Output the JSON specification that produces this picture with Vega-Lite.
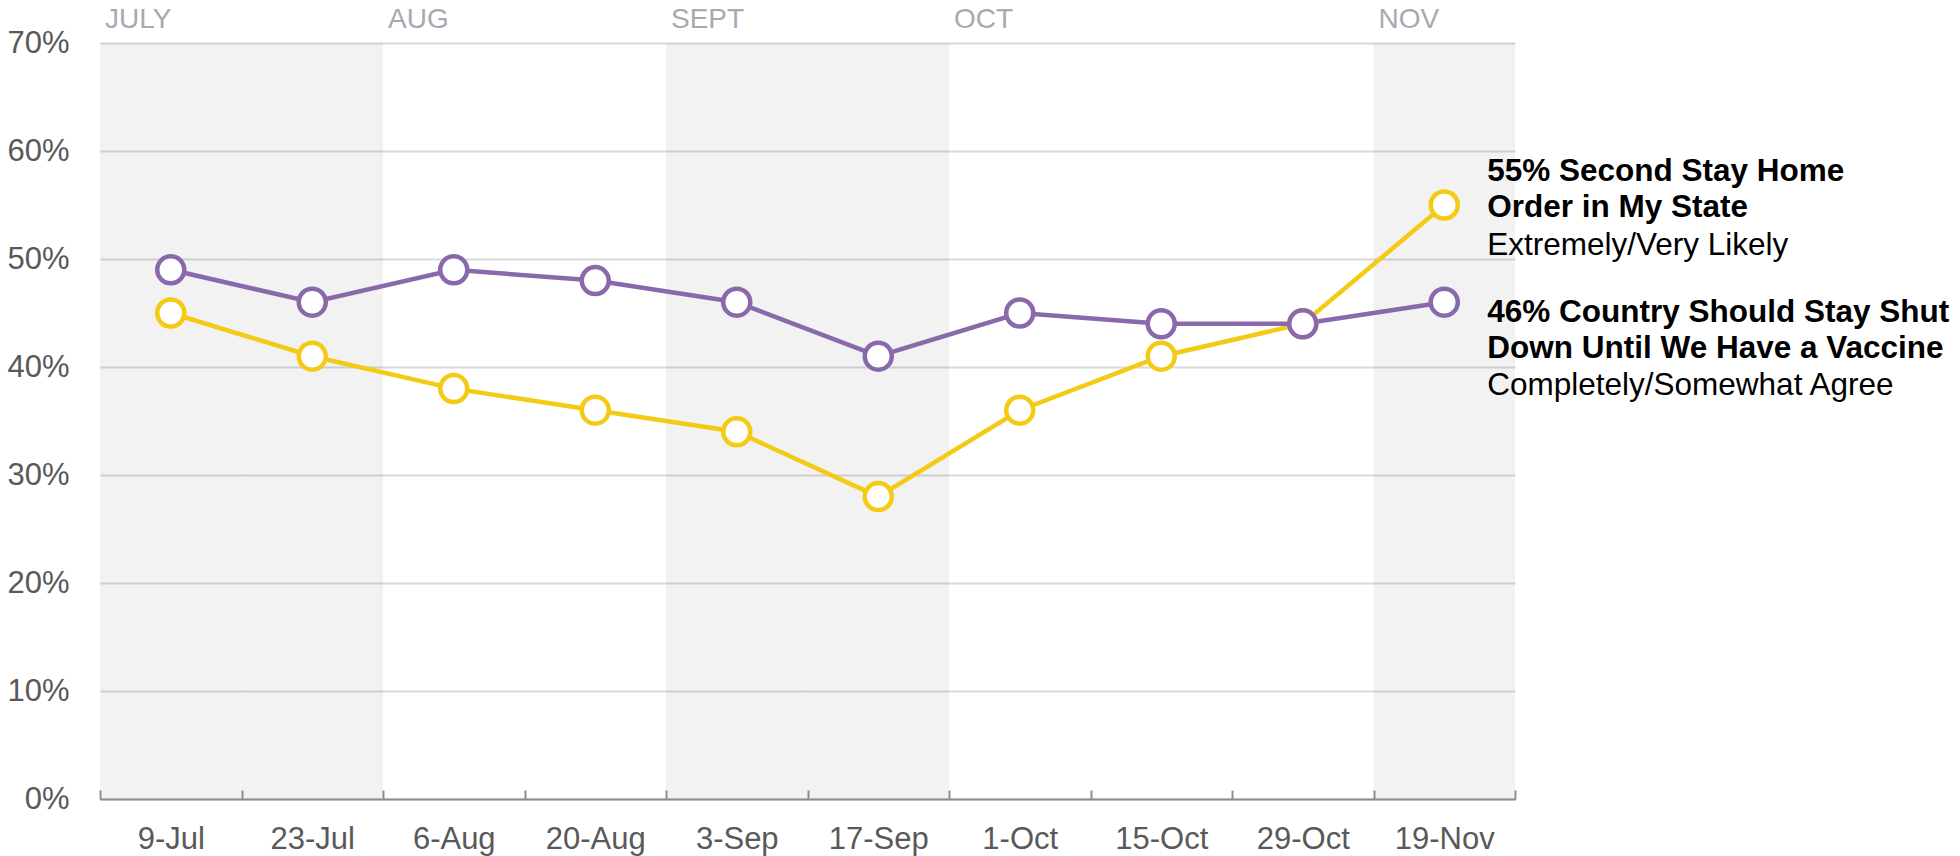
{
  "$schema": "https://vega.github.io/schema/vega-lite/v6.json",
  "width": 1415,
  "height": 756,
  "autosize": {"type": "none"},
  "padding": {"left": 100, "top": 43, "right": 445, "bottom": 57},
  "background": "white",
  "config": {"view": {"stroke": null}, "font": "Liberation Sans", "text": {"font": "Liberation Sans"}},
  "datasets": {
    "dates": [
      {"date": "9-Jul", "month": "JULY"},
      {"date": "23-Jul", "month": "JULY"},
      {"date": "6-Aug", "month": "AUG"},
      {"date": "20-Aug", "month": "AUG"},
      {"date": "3-Sep", "month": "SEPT"},
      {"date": "17-Sep", "month": "SEPT"},
      {"date": "1-Oct", "month": "OCT"},
      {"date": "15-Oct", "month": "OCT"},
      {"date": "29-Oct", "month": "OCT"},
      {"date": "19-Nov", "month": "NOV"}
    ],
    "months": [
      {"month": "JULY", "first": "9-Jul"},
      {"month": "AUG", "first": "6-Aug"},
      {"month": "SEPT", "first": "3-Sep"},
      {"month": "OCT", "first": "1-Oct"},
      {"month": "NOV", "first": "19-Nov"}
    ],
    "points": [
      {"date": "9-Jul", "series": "home", "value": 45},
      {"date": "23-Jul", "series": "home", "value": 41},
      {"date": "6-Aug", "series": "home", "value": 38},
      {"date": "20-Aug", "series": "home", "value": 36},
      {"date": "3-Sep", "series": "home", "value": 34},
      {"date": "17-Sep", "series": "home", "value": 28},
      {"date": "1-Oct", "series": "home", "value": 36},
      {"date": "15-Oct", "series": "home", "value": 41},
      {"date": "29-Oct", "series": "home", "value": 44},
      {"date": "19-Nov", "series": "home", "value": 55},
      {"date": "9-Jul", "series": "shut", "value": 49},
      {"date": "23-Jul", "series": "shut", "value": 46},
      {"date": "6-Aug", "series": "shut", "value": 49},
      {"date": "20-Aug", "series": "shut", "value": 48},
      {"date": "3-Sep", "series": "shut", "value": 46},
      {"date": "17-Sep", "series": "shut", "value": 41},
      {"date": "1-Oct", "series": "shut", "value": 45},
      {"date": "15-Oct", "series": "shut", "value": 44},
      {"date": "29-Oct", "series": "shut", "value": 44},
      {"date": "19-Nov", "series": "shut", "value": 46}
    ],
    "labels": [
      {"series": "home", "date": "19-Nov", "value": 55, "l1": "55% Second Stay Home", "l2": "Order in My State", "l3": "Extremely/Very Likely"},
      {"series": "shut", "date": "19-Nov", "value": 46, "l1": "46% Country Should Stay Shut", "l2": "Down Until We Have a Vaccine", "l3": "Completely/Somewhat Agree"}
    ]
  },
  "layer": [
    {
      "data": {"name": "dates"},
      "mark": {"type": "rect", "fill": "#000000"},
      "encoding": {
        "x": {
          "field": "date", "type": "ordinal", "title": null,
          "scale": {"type": "band", "domain": ["9-Jul", "23-Jul", "6-Aug", "20-Aug", "3-Sep", "17-Sep", "1-Oct", "15-Oct", "29-Oct", "19-Nov"], "paddingInner": 0, "paddingOuter": 0},
          "axis": {
            "title": null, "orient": "bottom", "domainColor": "#8c8c96", "domainWidth": 2,
            "tickColor": "#8c8c96", "tickWidth": 2, "tickSize": -9, "tickBand": "extent",
            "labelFontSize": 31, "labelColor": "#595959", "labelPadding": 34, "labelAngle": 0, "zindex": 1,
            "labelFont": "Liberation Sans"
          }
        },
        "y": {
          "datum": 0, "type": "quantitative", "title": null,
          "scale": {"domain": [0, 70]},
          "axis": {
            "title": null, "values": [0, 10, 20, 30, 40, 50, 60, 70], "labelExpr": "datum.value + '%'",
            "domain": false, "ticks": false, "grid": true, "gridColor": "#d9d9d9", "gridWidth": 2,
            "labelFontSize": 31, "labelColor": "#595959", "labelPadding": 31, "labelFont": "Liberation Sans"
          }
        },
        "y2": {"datum": 70},
        "fillOpacity": {
          "condition": {"test": "datum.month == 'AUG' || datum.month == 'OCT'", "value": 0},
          "value": 0.051
        }
      }
    },
    {
      "data": {"name": "points"},
      "mark": {"type": "line", "strokeWidth": 4.5},
      "encoding": {
        "x": {"field": "date", "type": "ordinal", "title": null},
        "y": {"field": "value", "type": "quantitative", "title": null},
        "stroke": {"field": "series", "type": "nominal", "scale": {"domain": ["home", "shut"], "range": ["#F3CA14", "#8968AC"]}, "legend": null}
      }
    },
    {
      "data": {"name": "points"},
      "mark": {"type": "point", "shape": "circle", "size": 730, "strokeWidth": 4.5, "filled": true, "fill": "white", "opacity": 1},
      "encoding": {
        "x": {"field": "date", "type": "ordinal", "title": null},
        "y": {"field": "value", "type": "quantitative", "title": null},
        "stroke": {"field": "series", "type": "nominal", "legend": null}
      }
    },
    {
      "data": {"name": "months"},
      "mark": {"type": "text", "align": "left", "baseline": "middle", "dx": 5, "dy": -23, "fontSize": 28, "color": "#a9a9b1"},
      "encoding": {
        "x": {"field": "first", "type": "ordinal", "bandPosition": 0, "title": null},
        "y": {"datum": 70, "type": "quantitative"},
        "text": {"field": "month"}
      }
    },
    {
      "data": {"name": "labels"},
      "transform": [{"filter": "datum.series == 'home'"}],
      "mark": {"type": "text", "align": "left", "baseline": "middle", "dx": 43, "dy": -33, "fontSize": 31.5, "fontWeight": "bold", "color": "#000000"},
      "encoding": {
        "x": {"field": "date", "type": "ordinal", "title": null},
        "y": {"field": "value", "type": "quantitative", "title": null},
        "text": {"field": "l1"}
      }
    },
    {
      "data": {"name": "labels"},
      "transform": [{"filter": "datum.series == 'home'"}],
      "mark": {"type": "text", "align": "left", "baseline": "middle", "dx": 43, "dy": 3, "fontSize": 31.5, "fontWeight": "bold", "color": "#000000"},
      "encoding": {
        "x": {"field": "date", "type": "ordinal", "title": null},
        "y": {"field": "value", "type": "quantitative", "title": null},
        "text": {"field": "l2"}
      }
    },
    {
      "data": {"name": "labels"},
      "transform": [{"filter": "datum.series == 'home'"}],
      "mark": {"type": "text", "align": "left", "baseline": "middle", "dx": 43, "dy": 41, "fontSize": 31.5, "color": "#000000"},
      "encoding": {
        "x": {"field": "date", "type": "ordinal", "title": null},
        "y": {"field": "value", "type": "quantitative", "title": null},
        "text": {"field": "l3"}
      }
    },
    {
      "data": {"name": "labels"},
      "transform": [{"filter": "datum.series == 'shut'"}],
      "mark": {"type": "text", "align": "left", "baseline": "middle", "dx": 43, "dy": 11, "fontSize": 31.5, "fontWeight": "bold", "color": "#000000"},
      "encoding": {
        "x": {"field": "date", "type": "ordinal", "title": null},
        "y": {"field": "value", "type": "quantitative", "title": null},
        "text": {"field": "l1"}
      }
    },
    {
      "data": {"name": "labels"},
      "transform": [{"filter": "datum.series == 'shut'"}],
      "mark": {"type": "text", "align": "left", "baseline": "middle", "dx": 43, "dy": 47, "fontSize": 31.5, "fontWeight": "bold", "color": "#000000"},
      "encoding": {
        "x": {"field": "date", "type": "ordinal", "title": null},
        "y": {"field": "value", "type": "quantitative", "title": null},
        "text": {"field": "l2"}
      }
    },
    {
      "data": {"name": "labels"},
      "transform": [{"filter": "datum.series == 'shut'"}],
      "mark": {"type": "text", "align": "left", "baseline": "middle", "dx": 43, "dy": 84, "fontSize": 31.5, "color": "#000000"},
      "encoding": {
        "x": {"field": "date", "type": "ordinal", "title": null},
        "y": {"field": "value", "type": "quantitative", "title": null},
        "text": {"field": "l3"}
      }
    }
  ]
}
